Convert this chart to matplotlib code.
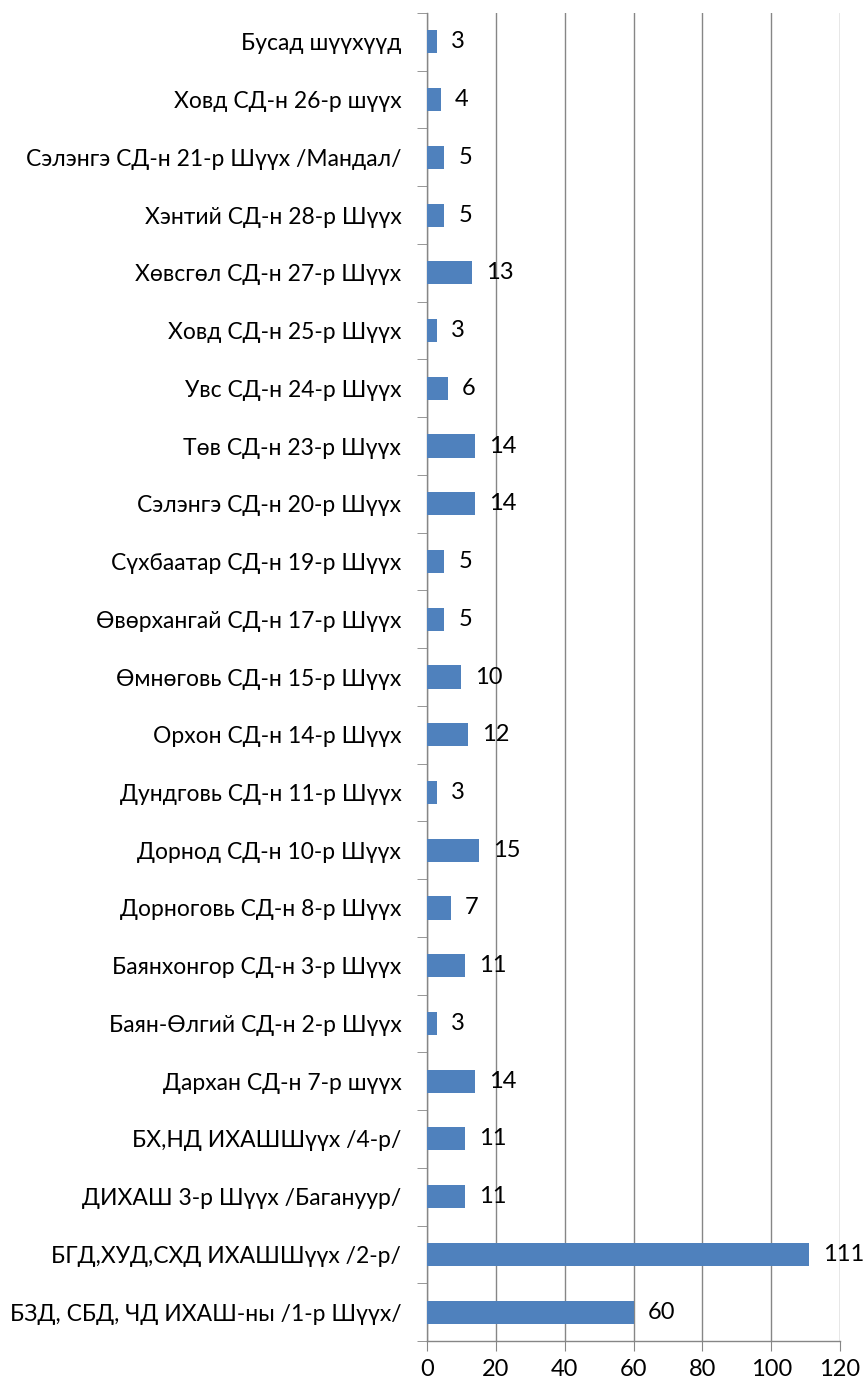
import matplotlib
matplotlib.use("Agg")
import matplotlib.pyplot as plt

plt.rcParams['font.family'] = ['Lato', 'DejaVu Sans']

categories = [
    "БЗД, СБД, ЧД ИХАШ-ны /1-р Шүүх/",
    "БГД,ХУД,СХД ИХАШШүүх /2-р/",
    "ДИХАШ 3-р Шүүх /Багануур/",
    "БХ,НД ИХАШШүүх /4-р/",
    "Дархан СД-н 7-р шүүх",
    "Баян-Өлгий СД-н 2-р Шүүх",
    "Баянхонгор СД-н 3-р Шүүх",
    "Дорноговь СД-н 8-р Шүүх",
    "Дорнод СД-н 10-р Шүүх",
    "Дундговь СД-н 11-р Шүүх",
    "Орхон СД-н 14-р Шүүх",
    "Өмнөговь СД-н 15-р Шүүх",
    "Өвөрхангай СД-н 17-р Шүүх",
    "Сүхбаатар СД-н 19-р Шүүх",
    "Сэлэнгэ СД-н 20-р Шүүх",
    "Төв СД-н 23-р Шүүх",
    "Увс СД-н 24-р Шүүх",
    "Ховд СД-н 25-р Шүүх",
    "Хөвсгөл СД-н 27-р Шүүх",
    "Хэнтий СД-н 28-р Шүүх",
    "Сэлэнгэ СД-н 21-р Шүүх /Мандал/",
    "Ховд СД-н 26-р шүүх",
    "Бусад шүүхүүд",
]
values = [60, 111, 11, 11, 14, 3, 11, 7, 15, 3, 12, 10, 5, 5, 14, 14, 6, 3, 13, 5, 5, 4, 3]
xticks = [0, 20, 40, 60, 80, 100, 120]

fig = plt.figure(figsize=(8.66, 13.86), dpi=100)
ax = fig.add_axes([427/866, 1-1341/1386, (840-427)/866, (1341-13)/1386])

n = len(categories)
ypos = list(range(n))
bars = ax.barh(ypos, values, height=0.4, color='#4F81BD', zorder=3)

for y, v in zip(ypos, values):
    ax.annotate(str(v), xy=(v, y), xytext=(14, 0), textcoords='offset pixels',
                ha='left', va='center', fontsize=17, color='black', zorder=4)

ax.set_xlim(0, 120)
ax.set_ylim(-0.5, n - 0.5)
ax.set_xticks(xticks)
ax.set_xticklabels([str(t) for t in xticks], fontsize=17)

# category labels
ax.set_yticks(ypos)
ax.set_yticklabels(categories, fontsize=16.5)
ax.tick_params(axis='y', length=0, pad=18.5)
# boundary ticks
ax.set_yticks([i - 0.5 for i in range(n + 1)], minor=True)
ax.tick_params(axis='y', which='minor', length=7, color='#868686', direction='out')
ax.tick_params(axis='x', length=7, color='#868686', direction='out', pad=6)

ax.grid(axis='x', color='#868686', linewidth=1, zorder=0)
for s in ['top', 'right']:
    ax.spines[s].set_visible(False)
for s in ['left', 'bottom']:
    ax.spines[s].set_color('#868686')
    ax.spines[s].set_linewidth(1)

fig.savefig('out.png', dpi=100)
